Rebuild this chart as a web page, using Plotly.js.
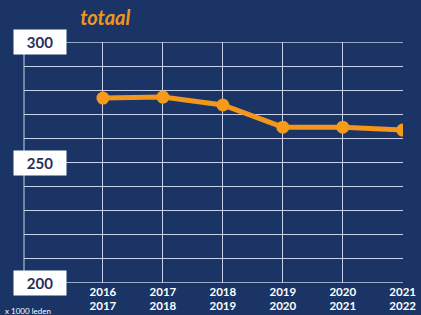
<!DOCTYPE html>
<html><head><meta charset="utf-8">
<script src="https://cdn.plot.ly/plotly-3.0.1.min.js"></script>
<style>html,body{margin:0;padding:0;background:#1b3466;}#chart{width:421px;height:315px;}</style>
</head><body><div id="chart"></div>
<script>
const categories = ["2016<br>2017","2017<br>2018","2018<br>2019","2019<br>2020","2020<br>2021","2021<br>2022"];
const values = [276.8, 277.2, 273.9, 264.7, 264.7, 263.5];
const yLabels = [300, 250, 200];
const xIdx = categories.map((c,i)=>i);

const data = [{
  x: xIdx, y: values, type: 'scatter', mode: 'lines+markers',
  line: {color: '#f2961c', width: 5},
  marker: {color: '#f59a1a', size: 13},
  hoverinfo: 'skip'
}];

const annotations = yLabels.map(v => ({
  xref: 'paper', yref: 'y', x: 0.042, xanchor: 'center', yanchor: 'middle', y: v, text: '<b>' + v + '</b>',
  showarrow: false, bgcolor: '#ffffff', width: 46, height: 18, borderpad: 3,
  font: {family: 'Lato, "Open Sans", sans-serif', size: 15, color: '#2a2e5a'}
}));
annotations.push({
  xref: 'paper', yref: 'paper', x: -0.055, y: -0.115, xanchor: 'left', yanchor: 'middle',
  text: 'x 1000 leden', showarrow: false,
  font: {family: 'Lato, sans-serif', size: 8, color: '#ffffff'}
});

const gridColor = '#c9d1ea';
const layout = {
  width: 421, height: 315,
  paper_bgcolor: '#1b3466', plot_bgcolor: '#1b3466',
  margin: {l: 24, r: 18, t: 42, b: 32, pad: 0},
  showlegend: false,
  title: {text: '<b><i>totaal</i></b>', x: 0.25, xanchor: 'center', xref: 'container', y: 0.943, yanchor: 'middle',
          font: {family: 'Lato, "Open Sans", sans-serif', size: 20, color: '#f0961e'}},
  xaxis: {
    range: [-1.317, 5.005], tickvals: xIdx, ticktext: categories.map(c => '<b>' + c.replace('<br>', '</b><br><b>') + '</b>'),
    showgrid: true, gridcolor: gridColor, gridwidth: 1, zeroline: false, showline: false,
    ticks: '', ticklabelstandoff: 0, tickfont: {family: 'Lato, "Open Sans", sans-serif', size: 11.5, color: '#ffffff'},
    fixedrange: true
  },
  yaxis: {
    range: [199.9, 300.1], dtick: 10, tick0: 200, showticklabels: false,
    showgrid: true, gridcolor: gridColor, gridwidth: 1, zeroline: false, showline: false,
    ticks: '', fixedrange: true
  },
  shapes: [
    {type: 'line', xref: 'paper', yref: 'paper', x0: 0, x1: 0, y0: 0, y1: 1, line: {color: gridColor, width: 1}, layer: 'below'},
    {type: 'line', xref: 'paper', yref: 'y', x0: 0, x1: 1, y0: 300, y1: 300, line: {color: gridColor, width: 1}, layer: 'below'},
    {type: 'line', xref: 'paper', yref: 'y', x0: 0, x1: 1, y0: 200, y1: 200, line: {color: gridColor, width: 1}, layer: 'below'}
  ],
  annotations: annotations
};
Plotly.newPlot('chart', data, layout, {displayModeBar: false, staticPlot: true});
</script></body></html>
